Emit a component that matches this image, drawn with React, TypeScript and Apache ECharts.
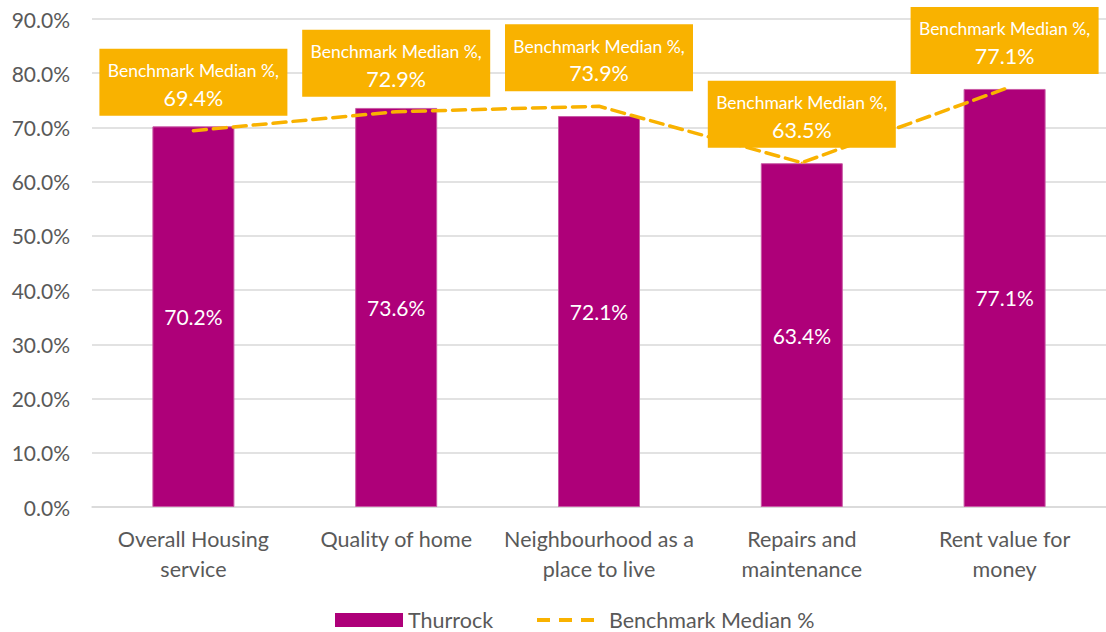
import React, { useEffect, useRef } from "react";
import * as echarts from "echarts";

const categories = [
  "Overall Housing\nservice",
  "Quality of home",
  "Neighbourhood as a\nplace to live",
  "Repairs and\nmaintenance",
  "Rent value for\nmoney",
];
const thurrock = [70.2, 73.6, 72.1, 63.4, 77.1];
const benchmark = [69.4, 72.9, 73.9, 63.5, 77.1];

const FONT = "Lato";
const GREY = "#595959";
const PURPLE = "#AE0079";
const GOLD = "#F9B200";

export default function App() {
  const ref = useRef<HTMLDivElement>(null);
  useEffect(() => {
    if (!ref.current) return;
    const chart = echarts.init(ref.current, undefined, { renderer: "svg" });
    chart.setOption({
      animation: false,
      textStyle: { fontFamily: FONT },
      grid: { left: 92, right: -11, top: 19, bottom: 125, containLabel: false },
      legend: [
        {
          data: [
            {
              name: "Thurrock",
              icon: "rect",
              itemStyle: { color: PURPLE, borderWidth: 0 },
            },
          ],
          left: 330,
          top: 604,
          itemWidth: 68,
          itemHeight: 14,
          itemGap: 8,
          itemStyle: { borderWidth: 0 },
          textStyle: { fontFamily: FONT, fontSize: 21.5, color: GREY },
        },
        {
          data: [
            {
              name: "Benchmark Median %",
              icon: "path://M0 0H13V4H0Z M22 0H35V4H22Z M44 0H57V4H44Z",
              itemStyle: { color: GOLD, opacity: 1 },
            },
          ],
          left: 532,
          top: 604,
          itemWidth: 57,
          itemHeight: 4,
          itemStyle: { color: GOLD, opacity: 1 },
          textStyle: { fontFamily: FONT, fontSize: 21.5, color: GREY, padding: [0, 0, 0, 10] },
        },
      ],
      xAxis: {
        type: "category",
        data: categories,
        axisLine: { lineStyle: { color: "#d9d9d9", width: 1.5 } },
        axisTick: { show: false },
        axisLabel: {
          fontFamily: FONT,
          fontSize: 21.5,
          color: GREY,
          lineHeight: 30,
          margin: 17,
          interval: 0,
        },
      },
      yAxis: {
        type: "value",
        min: 0,
        max: 90,
        interval: 10,
        axisLine: { show: false },
        axisTick: { show: false },
        splitLine: { lineStyle: { color: "#d9d9d9", width: 1.5 } },
        axisLabel: {
          fontFamily: FONT,
          fontSize: 21,
          color: GREY,
          margin: 22,
          formatter: (v: number) => v.toFixed(1) + "%",
        },
      },
      series: [
        {
          name: "Thurrock",
          type: "bar",
          data: thurrock,
          barWidth: 82,
          itemStyle: { color: PURPLE, borderColor: "#c95aa5", borderWidth: 1 },
          label: {
            show: true,
            position: "inside",
            color: "#fff",
            fontFamily: FONT,
            fontSize: 21,
            formatter: (p: any) => p.value.toFixed(1) + "%",
          },
        },
        {
          name: "Benchmark Median %",
          type: "line",
          data: benchmark,
          symbol: "circle",
          symbolSize: 2,
          showSymbol: true,
          showAllSymbol: true,
          lineStyle: { color: GOLD, width: 3.5, type: [13, 7], cap: "round" },
          itemStyle: { color: GOLD, borderWidth: 0 },
          z: 5,
          label: {
            show: true,
            position: "top",
            distance: 14,
            backgroundColor: GOLD,
            width: 188,
            align: "center",
            padding: [9, 0, 4, 0],
            formatter: (p: any) => "{a|Benchmark Median %,}\n{b|" + p.value.toFixed(1) + "%}",
            rich: {
              a: { fontFamily: FONT, fontSize: 17.5, color: "#fff", lineHeight: 26, align: "center" },
              b: { fontFamily: FONT, fontSize: 21.5, color: "#fff", lineHeight: 28, align: "center" },
            },
          },
        },
      ],
    });
    return () => chart.dispose();
  }, []);
  return (
    <div
      ref={ref}
      style={{ position: "absolute", left: 0, top: 0, width: 1106, height: 632, background: "#fff" }}
    />
  );
}
